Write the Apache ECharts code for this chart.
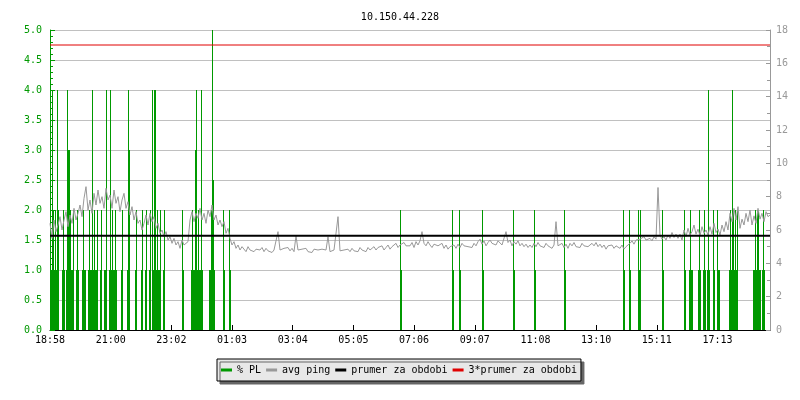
<!DOCTYPE html>
<html><head><meta charset="utf-8">
<script src="https://cdn.jsdelivr.net/npm/echarts@6/dist/echarts.min.js"></script>
<style>html,body{margin:0;padding:0;background:#fff}#c{width:800px;height:400px}</style>
</head><body><div id="c"></div>
<script>
const titleText = '10.150.44.228';
// x axis: minutes since 18:58, spanning 24 h
const xSpanMinutes = 1440;
const xTickStepMinutes = 1335 / 11;
const xTickLabels = ['18:58','21:00','23:02','01:03','03:04','05:05','07:06','09:07','11:08','13:10','15:11','17:13'];
const legendNames = ['% PL', 'avg ping', 'prumer za obdobi', '3*prumer za obdobi'];

// % packet loss: [minute, value]
const plData = [
  [1,1],[3,1],[5,4],[7,2],[9,1],[11,2],[13,1],[15,4],[17,2],
  [25,1],[27,2],[29,1],[33,1],[35,4],[37,3],[39,3],[41,2],[43,1],[45,1],[47,2],
  [53,1],[55,2],[57,1],[65,1],[67,2],[69,1],[71,1],
  [77,1],[79,2],[81,1],[83,1],[85,4],[87,1],[89,2],[91,1],[93,1],[95,2],
  [101,1],[103,2],[109,1],[111,1],[113,4],[119,1],[121,4],[123,1],[125,2],[127,1],[129,1],[131,2],[133,1],
  [143,1],[145,2],[155,1],[157,4],[159,3],[171,1],[173,2],[183,1],[185,2],[191,1],[193,2],[199,1],[201,2],
  [205,4],[207,1],[209,4],[211,4],[213,1],[215,2],[217,1],[219,1],[221,2],[227,1],[229,2],
  [265,2],[267,1],
  [283,1],[285,2],[287,1],[289,1],[291,3],[293,4],[295,1],[297,2],[299,1],[301,1],[303,4],[305,1],
  [319,1],[321,1],[323,2],[325,5],[327,2.5],[329,1],[347,2],[349,1],[359,2],[361,1],
  [701,2],[703,1],[805,2],[807,1],[819,2],[821,1],[865,2],[867,1],[927,2],[929,1],
  [969,2],[971,1],[1029,2],[1031,1],[1147,2],[1149,1],[1159,2],[1161,1],
  [1177,2],[1179,1],[1181,2],[1225,2],[1227,1],[1269,2],[1271,1],
  [1279,1],[1281,2],[1283,1],[1285,1],[1297,1],[1299,2],[1301,1],[1307,1],[1309,2],[1311,1],
  [1315,1],[1317,4],[1319,1],[1327,2],[1329,1],[1335,2],[1337,1],[1339,1],
  [1359,1],[1361,2],[1363,1],[1365,4],[1367,2],[1369,1],[1371,2],[1373,1],[1375,2],
  [1407,1],[1409,1],[1411,2],[1413,1],[1415,2],[1417,2],[1419,1],[1421,1],[1425,1],[1427,2],[1429,1]
];

// avg ping (ms), one sample every 4 minutes
const pingStepMinutes = 4;
const pingValues = [
  6.4,5.5,6.6,5.9,6.3,6.8,6.0,6.6,7.1,6.2,6.9,6.4,7.3,6.6,7.0,
  7.5,6.8,7.9,8.6,7.2,7.8,7.0,8.2,7.5,8.4,7.6,8.0,7.3,8.5,7.8,
  8.1,7.3,8.4,7.6,8.0,7.1,7.8,8.2,7.3,7.7,6.9,7.4,6.6,7.1,6.4,
  6.6,6.0,6.4,6.9,6.3,7.0,6.5,6.8,6.1,6.4,5.8,6.0,5.6,5.9,5.4,
  5.6,5.2,5.5,5.1,5.3,4.9,5.4,5.1,5.0,5.3,6.6,7.1,6.5,7.0,6.7,
  7.3,6.6,7.0,6.4,7.2,6.8,7.5,6.6,6.9,6.3,6.6,6.2,6.5,5.8,6.1,
  5.5,5.1,5.3,4.9,5.1,4.8,5.0,4.9,4.7,5.0,4.8,4.9,4.7,4.85,4.75,
  4.8,4.95,4.7,4.9,4.75,4.85,4.65,4.8,4.9,5.9,4.8,4.7,4.9,4.8,4.95,
  4.75,4.9,4.7,5.65,4.8,4.7,4.85,4.75,4.9,4.7,4.8,4.65,4.85,4.75,4.8,
  4.7,4.85,4.75,4.8,5.6,4.7,4.65,4.8,4.7,6.8,4.75,4.65,4.8,4.7,4.85,
  4.7,4.9,4.75,4.85,4.7,4.95,4.8,4.9,4.7,4.95,4.8,4.85,5.0,4.8,4.95,
  4.85,5.05,4.8,4.95,5.1,4.85,5.0,4.9,5.2,4.95,5.1,5.0,5.25,5.05,5.15,
  5.05,5.25,4.95,5.3,5.1,5.35,5.9,5.2,5.05,5.3,5.1,4.95,5.15,5.25,5.05,
  5.0,5.2,4.9,5.1,4.85,5.0,4.95,5.1,4.9,5.15,4.95,5.2,5.05,5.15,5.0,
  5.1,4.95,5.2,5.05,5.3,5.45,5.15,5.35,5.05,5.25,5.4,5.2,5.3,5.1,5.35,
  5.3,5.1,5.2,5.9,5.25,5.4,5.05,5.3,5.15,5.35,5.05,5.2,5.0,5.15,4.95,
  5.1,4.95,5.2,5.0,5.25,5.05,5.15,4.95,5.2,5.05,5.15,4.9,5.1,6.5,5.05,
  5.05,5.2,4.95,5.15,4.9,5.2,5.05,5.25,5.0,5.1,4.95,5.2,5.05,5.15,5.0,
  4.95,5.2,5.05,5.25,5.0,5.15,4.95,5.1,4.85,5.05,4.95,5.1,4.9,5.05,4.95,
  4.9,5.1,4.85,5.0,4.95,5.2,5.35,5.15,5.4,5.3,5.45,5.35,5.6,5.4,5.5,
  5.5,5.35,5.6,5.45,8.55,5.7,5.45,5.6,5.4,5.7,5.5,5.85,5.55,5.75,5.5,
  5.75,5.4,6.0,5.6,6.1,5.7,5.9,6.3,5.75,6.05,5.65,6.2,5.8,6.0,5.7,
  6.2,5.75,6.4,5.85,6.05,5.7,6.3,5.9,6.5,6.0,7.0,6.5,7.3,6.6,7.4,
  6.1,6.65,6.3,7.0,6.5,7.2,6.3,6.85,6.4,7.3,6.65,7.0,6.5,7.1,6.8,
  6.9
];
const avgPing = 5.65;
const triplePing = 17.1;

const font = 'DejaVu Sans Mono';
const pingData = pingValues.map((v, i) => [Math.min(i * pingStepMinutes, xSpanMinutes), v]);

function renderImpulse(params, api) {
  const t = api.value(0), v = api.value(1);
  const base = api.coord([t, 0]);
  const top = api.coord([t, v]);
  const x = Math.floor(base[0]);
  return {
    type: 'rect',
    shape: {x: x, y: top[1], width: 1, height: base[1] - top[1]},
    style: {fill: api.visual('color')}
  };
}

const chart = echarts.init(document.getElementById('c'), null, {renderer: 'canvas'});
chart.setOption({
  animation: false,
  backgroundColor: '#fff',
  title: {text: titleText, left: 'center', top: 7,
    textStyle: {fontFamily: font, fontSize: 10, fontWeight: 'normal', color: '#000'}},
  grid: {left: 50, right: 30, top: 30, height: 300, containLabel: false, outerBoundsMode: 'none'},
  legend: {
    data: legendNames, left: 217, top: 359, icon: 'rect', itemWidth: 11, itemHeight: 3, itemGap: 5,
    padding: [6, 4], backgroundColor: '#e8e8e8', borderColor: '#000', borderWidth: 1,
    shadowColor: '#666', shadowBlur: 0, shadowOffsetX: 3, shadowOffsetY: 3,
    selectedMode: false,
    textStyle: {fontFamily: font, fontSize: 10, color: '#000'}
  },
  xAxis: {
    type: 'value', min: 0, max: xSpanMinutes, interval: xTickStepMinutes,
    axisLine: {show: true, lineStyle: {color: '#000', width: 1}},
    axisTick: {show: true, inside: true, length: 5, lineStyle: {color: '#000'}},
    axisLabel: {fontFamily: font, fontSize: 10, color: '#000', margin: 5, showMaxLabel: false,
      formatter: function (v) {
        const i = Math.round(v / xTickStepMinutes);
        if (Math.abs(v - i * xTickStepMinutes) > 1) return '';
        return xTickLabels[i] || '';
      }},
    splitLine: {show: false}
  },
  yAxis: [
    {type: 'value', min: 0, max: 5, interval: 0.5, position: 'left',
      axisLine: {show: true, lineStyle: {color: '#009900'}},
      axisTick: {show: true, inside: true, length: 5, lineStyle: {color: '#009900'}},
      minorTick: {show: true, splitNumber: 5, length: 3, lineStyle: {color: '#009900'}},
      axisLabel: {color: '#009900', fontFamily: font, fontSize: 10, margin: 8, formatter: v => v.toFixed(1)},
      splitLine: {show: true, lineStyle: {color: '#c0c0c0', width: 1}}},
    {type: 'value', min: 0, max: 18, interval: 2, position: 'right',
      axisLine: {show: true, lineStyle: {color: '#999'}},
      axisTick: {show: true, inside: true, length: 4, lineStyle: {color: '#999'}},
      minorTick: {show: true, splitNumber: 2, length: 3, lineStyle: {color: '#999'}},
      axisLabel: {color: '#999', fontFamily: font, fontSize: 10, margin: 6},
      splitLine: {show: false}}
  ],
  series: [
    {name: legendNames[0], type: 'custom', coordinateSystem: 'cartesian2d', xAxisIndex: 0, yAxisIndex: 0,
      data: plData, renderItem: renderImpulse, encode: {x: 0, y: 1},
      color: '#009900', itemStyle: {color: '#009900'}},
    {name: legendNames[1], type: 'line', yAxisIndex: 1, data: pingData, showSymbol: false, symbol: 'none',
      color: '#999', lineStyle: {color: '#999', width: 1}},
    {name: legendNames[2], type: 'line', yAxisIndex: 1, data: [[0, avgPing], [xSpanMinutes, avgPing]],
      showSymbol: false, symbol: 'none', color: '#000', lineStyle: {color: '#000', width: 2}},
    {name: legendNames[3], type: 'line', yAxisIndex: 1, data: [[0, triplePing], [xSpanMinutes, triplePing]],
      showSymbol: false, symbol: 'none', color: '#e00000', lineStyle: {color: '#e00000', width: 1}}
  ]
});
</script></body></html>
